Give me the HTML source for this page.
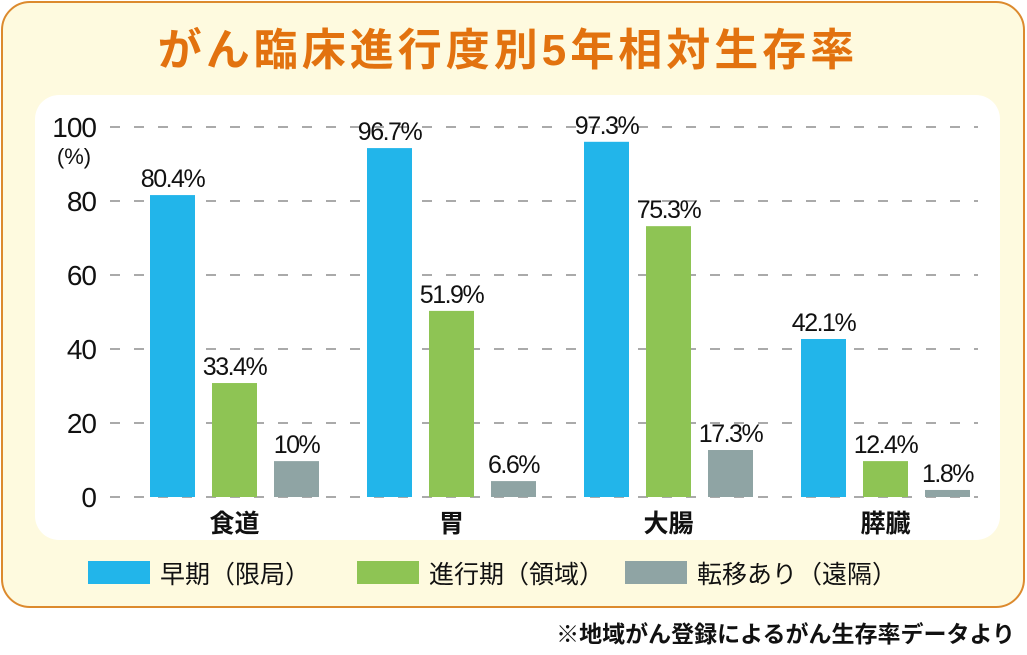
<!DOCTYPE html>
<html><head><meta charset="utf-8"><style>
body{margin:0;width:1027px;height:650px;background:#fff;overflow:hidden;font-family:"Liberation Sans","Noto Sans CJK JP",sans-serif}
</style></head><body>
<svg width="1027" height="650" xmlns="http://www.w3.org/2000/svg">
<rect x="2" y="2" width="1022" height="605" rx="28" fill="#fefadf" stroke="#dc8a2e" stroke-width="2"/>
<text x="508" y="65" text-anchor="middle" font-size="44" font-weight="bold" fill="#e2720f" letter-spacing="4" font-family="Liberation Sans,Noto Sans CJK JP,sans-serif">がん臨床進行度別5年相対生存率</text>
<rect x="35" y="95" width="965" height="445" rx="24" fill="#fff"/>
<g id="grid"></g><g id="bars"></g><g id="labels"></g>
<text x="74" y="164" text-anchor="middle" font-size="22" fill="#111">(%)</text>
<g>
<rect x="88" y="561" width="62" height="23" fill="#22b5ea"/>
<text x="160" y="583" font-size="25" fill="#111">早期（限局）</text>
<rect x="357" y="561" width="62" height="23" fill="#8ec454"/>
<text x="429" y="583" font-size="25" fill="#111">進行期（領域）</text>
<rect x="625" y="561" width="62" height="23" fill="#8fa4a4"/>
<text x="697" y="583" font-size="25" fill="#111">転移あり（遠隔）</text>
</g>
<text x="1015" y="642" text-anchor="end" font-size="23" font-weight="bold" fill="#111">※地域がん登録によるがん生存率データより</text>
</svg>
<script>
const categories=["食道","胃","大腸","膵臓"];
const early=[81.6,94.3,96,42.7];
const advanced=[30.8,50.3,73.2,9.7];
const metastatic=[9.7,4.3,12.7,1.9];
const valueLabels=[["80.4%","96.7%","97.3%","42.1%"],["33.4%","51.9%","75.3%","12.4%"],["10%","6.6%","17.3%","1.8%"]];
const yTicks=[0,20,40,60,80,100];
const NS="http://www.w3.org/2000/svg";
const y=v=>497-v*3.7;
const groupX=i=>150+i*217;
function mk(tag,attrs,parent){const e=document.createElementNS(NS,tag);for(const k in attrs)e.setAttribute(k,attrs[k]);parent.appendChild(e);return e;}
const grid=document.getElementById('grid'),bars=document.getElementById('bars'),labels=document.getElementById('labels');
yTicks.forEach(t=>{
 const l=mk('line',{x1:110,x2:978,y1:y(t),y2:y(t),stroke:'#777','stroke-width':1.2,'stroke-dasharray':'10 14'},grid);
 
 
 const tx=mk('text',{x:96,y:y(t)+10,'text-anchor':'end','font-size':28,fill:'#111','letter-spacing':'-1'},grid);
 tx.textContent=t;
 
 
});
const series=[early,advanced,metastatic],colors=['#22b5ea','#8ec454','#8fa4a4'],sn=['early','advanced','metastatic'];
categories.forEach((c,i)=>{
 series.forEach((s,j)=>{
  const x=groupX(i)+j*62;
  const r=mk('rect',{x:x,y:y(s[i]),width:45,height:497-y(s[i]),fill:colors[j]},bars);
  
  
  const t=mk('text',{x:x+22.5,y:y(s[i])-8,'text-anchor':'middle','font-size':25,fill:'#111','letter-spacing':'-1.5'},labels);
  t.textContent=valueLabels[j][i];
  
  
 });
 const ct=mk('text',{x:groupX(i)+84.5,y:532,'text-anchor':'middle','font-size':25,'font-weight':'bold',fill:'#111'},labels);
 ct.textContent=c;
 
 
});
</script>
</body></html>
